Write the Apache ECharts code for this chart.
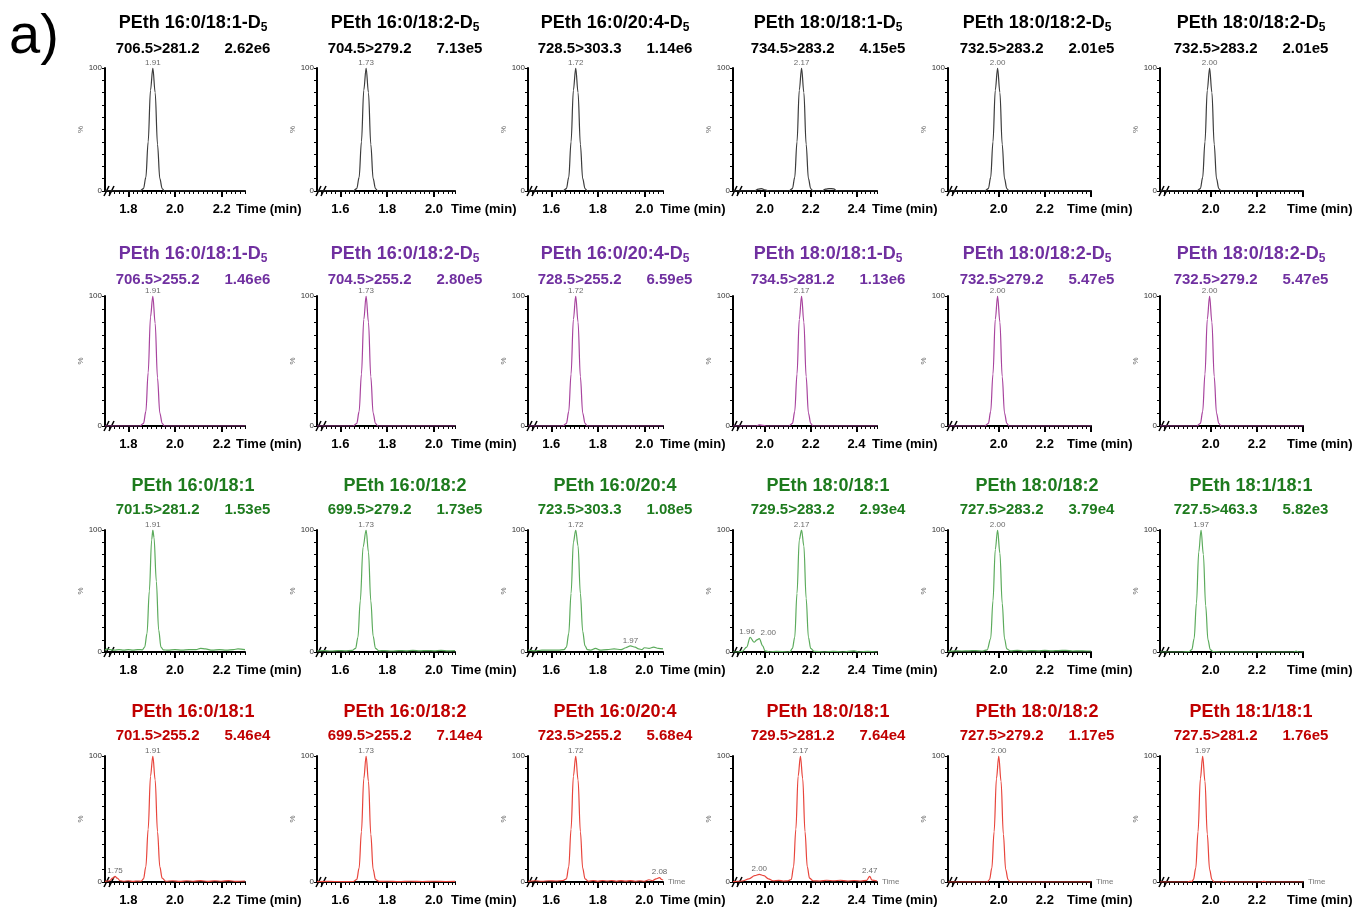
<!DOCTYPE html>
<html>
<head>
<meta charset="utf-8">
<script src="https://cdn.jsdelivr.net/npm/echarts@6/dist/echarts.min.js"></script>
<style>
  html, body { margin: 0; padding: 0; background: #fff; }
  #main { width: 1354px; height: 909px; }
</style>
</head>
<body>
<div id="main"></div>
<script>
// compounds (internal standards carry the -D5 label)
const isNames = ["16:0/18:1", "16:0/18:2", "16:0/20:4", "18:0/18:1", "18:0/18:2", "18:0/18:2"];
const analyteNames = ["16:0/18:1", "16:0/18:2", "16:0/20:4", "18:0/18:1", "18:0/18:2", "18:1/18:1"];

const isQuantTransitions = ["706.5>281.2", "704.5>279.2", "728.5>303.3", "734.5>283.2", "732.5>283.2", "732.5>283.2"];
const isQualTransitions = ["706.5>255.2", "704.5>255.2", "728.5>255.2", "734.5>281.2", "732.5>279.2", "732.5>279.2"];
const quantTransitions = ["701.5>281.2", "699.5>279.2", "723.5>303.3", "729.5>283.2", "727.5>283.2", "727.5>463.3"];
const qualTransitions = ["701.5>255.2", "699.5>255.2", "723.5>255.2", "729.5>281.2", "727.5>279.2", "727.5>281.2"];

const isQuantHeights = ["2.62e6", "7.13e5", "1.14e6", "4.15e5", "2.01e5", "2.01e5"];
const isQualHeights = ["1.46e6", "2.80e5", "6.59e5", "1.13e6", "5.47e5", "5.47e5"];
const quantHeights = ["1.53e5", "1.73e5", "1.08e5", "2.93e4", "3.79e4", "5.82e3"];
const qualHeights = ["5.46e4", "7.14e4", "5.68e4", "7.64e4", "1.17e5", "1.76e5"];

// time axis per column
const xMin = [1.70, 1.50, 1.50, 1.86, 1.78, 1.78];
const xMax = [2.30, 2.09, 2.08, 2.49, 2.40, 2.40];
const tickLabels = [[1.8, 2.0, 2.2], [1.6, 1.8, 2.0], [1.6, 1.8, 2.0], [2.0, 2.2, 2.4], [2.0, 2.2], [2.0, 2.2]];
const majorTicks = [[1.8, 2.0, 2.2], [1.6, 1.8, 2.0], [1.6, 1.8, 2.0], [2.0, 2.2, 2.4], [2.0, 2.2, 2.4], [2.0, 2.2, 2.4]];

// traces [time, % intensity]
const isQuantTraces = [
  [[1.70,0],[1.85,0],[1.865,2],[1.875,11],[1.885,40],[1.895,82],[1.905,100],[1.915,80],[1.925,38],[1.935,10],[1.945,2],[1.955,0],[2.30,0]],
  [[1.50,0],[1.655,0],[1.67,2],[1.68,11],[1.69,40],[1.70,82],[1.71,100],[1.72,80],[1.73,38],[1.74,10],[1.75,2],[1.76,0],[2.09,0]],
  [[1.50,0],[1.65,0],[1.665,2],[1.675,11],[1.685,40],[1.695,82],[1.705,100],[1.715,80],[1.725,38],[1.735,10],[1.745,2],[1.755,0],[2.08,0]],
  [[1.86,0],[1.955,0],[1.97,1.5],[1.985,2],[2.0,1],[2.015,0],[2.105,0],[2.12,2],[2.13,11],[2.14,40],[2.15,82],[2.16,100],[2.17,80],[2.18,38],[2.19,10],[2.20,2],[2.21,0],[2.25,0],[2.265,1.5],[2.28,2],[2.30,1.8],[2.315,0],[2.49,0]],
  [[1.78,0],[1.94,0],[1.955,2],[1.965,11],[1.975,40],[1.985,82],[1.995,100],[2.005,80],[2.015,38],[2.025,10],[2.035,2],[2.045,0],[2.40,0]],
  [[1.78,0],[1.94,0],[1.955,2],[1.965,11],[1.975,40],[1.985,82],[1.995,100],[2.005,80],[2.015,38],[2.025,10],[2.035,2],[2.045,0],[2.40,0]]
];
const isQualTraces = [
  [[1.70,0],[1.85,0],[1.865,2],[1.875,11],[1.885,41],[1.895,84],[1.905,100],[1.915,79],[1.925,37],[1.935,10],[1.945,2],[1.955,0],[2.30,0]],
  [[1.50,0],[1.655,0],[1.67,2],[1.68,11],[1.69,40],[1.70,82],[1.71,100],[1.72,80],[1.73,38],[1.74,10],[1.75,2],[1.76,0],[2.09,0]],
  [[1.50,0],[1.65,0],[1.665,2],[1.675,11],[1.685,40],[1.695,82],[1.705,100],[1.715,80],[1.725,38],[1.735,10],[1.745,2],[1.755,0],[2.08,0]],
  [[1.86,0],[1.96,0],[1.975,0.8],[1.99,0.5],[2.005,0],[2.105,0],[2.12,2],[2.13,11],[2.14,40],[2.15,82],[2.16,100],[2.17,80],[2.18,38],[2.19,10],[2.20,2],[2.21,0],[2.49,0]],
  [[1.78,0],[1.94,0],[1.955,2],[1.965,11],[1.975,40],[1.985,82],[1.995,100],[2.005,80],[2.015,38],[2.025,10],[2.035,2],[2.045,0],[2.40,0]],
  [[1.78,0],[1.94,0],[1.955,2],[1.965,11],[1.975,40],[1.985,82],[1.995,100],[2.005,80],[2.015,38],[2.025,10],[2.035,2],[2.045,0],[2.40,0]]
];
const quantTraces = [
  [[1.70,1.5],[1.71,2.5],[1.72,2],[1.74,1.5],[1.76,2],[1.78,1.5],[1.80,2],[1.82,1.5],[1.84,2],[1.86,1.8],[1.87,4],[1.88,15],[1.89,50],[1.90,92],[1.905,100],[1.91,94],[1.92,58],[1.93,18],[1.94,4],[1.95,1.8],[1.97,1.5],[2.00,2],[2.03,1.5],[2.06,2],[2.09,2],[2.11,3],[2.13,2.5],[2.16,1.5],[2.19,2],[2.22,1.5],[2.25,2],[2.27,2.5],[2.30,2]],
  [[1.50,0.8],[1.53,1.2],[1.56,0.8],[1.59,1.2],[1.62,1],[1.65,1.3],[1.665,3],[1.675,12],[1.685,42],[1.697,86],[1.71,100],[1.72,82],[1.73,42],[1.74,13],[1.75,3],[1.765,1],[1.79,1.2],[1.82,0.8],[1.85,1.2],[1.88,1],[1.91,1.3],[1.94,0.9],[1.97,1.2],[2.00,1],[2.03,1.3],[2.06,0.9],[2.09,1.1]],
  [[1.50,1.5],[1.53,1],[1.56,1.5],[1.60,1.5],[1.63,1.5],[1.655,2],[1.665,4],[1.675,15],[1.685,48],[1.695,90],[1.705,100],[1.715,87],[1.725,48],[1.735,17],[1.745,5],[1.755,2],[1.77,1.5],[1.79,3],[1.81,1.5],[1.84,2],[1.87,2.5],[1.90,2],[1.92,3.5],[1.94,5],[1.96,4],[1.975,2.5],[1.99,2],[2.00,3.5],[2.02,3],[2.04,4],[2.06,3],[2.08,2.5]],
  [[1.86,0],[1.88,0],[1.90,0.5],[1.92,4],[1.935,12],[1.952,8],[1.965,10],[1.975,11],[1.99,5],[2.00,1],[2.02,0],[2.05,0.5],[2.10,0],[2.11,0.5],[2.12,3],[2.13,12],[2.14,48],[2.15,92],[2.16,100],[2.17,87],[2.18,44],[2.19,12],[2.20,3],[2.215,0.5],[2.26,0],[2.30,0.5],[2.34,0],[2.39,1],[2.41,0],[2.45,0.5],[2.49,0]],
  [[1.78,0.5],[1.81,1],[1.84,0.8],[1.87,1],[1.90,1.2],[1.93,0.8],[1.95,1.8],[1.965,11],[1.975,42],[1.985,84],[1.995,100],[2.005,81],[2.015,40],[2.025,11],[2.035,2.5],[2.05,1],[2.08,1.3],[2.11,0.8],[2.14,1.2],[2.17,1],[2.20,1.3],[2.23,0.9],[2.26,1.2],[2.29,1.4],[2.32,0.8],[2.35,1],[2.38,0.8],[2.40,0.8]],
  [[1.78,0],[1.87,0],[1.905,0.3],[1.918,2],[1.928,11],[1.938,40],[1.948,82],[1.958,100],[1.968,80],[1.978,38],[1.988,10],[1.998,2],[2.01,0.3],[2.05,0],[2.36,0],[2.37,0.8],[2.38,0],[2.40,0]]
];
const qualTraces = [
  [[1.70,0.5],[1.72,1],[1.733,3],[1.743,4.5],[1.753,3],[1.765,1],[1.78,0.6],[1.80,1],[1.82,0.5],[1.84,0.8],[1.855,0.6],[1.865,2.5],[1.875,12],[1.885,42],[1.895,84],[1.905,100],[1.915,81],[1.925,40],[1.935,12],[1.945,3],[1.96,0.6],[1.99,1],[2.02,0.5],[2.05,1],[2.08,0.6],[2.11,1.1],[2.14,0.5],[2.17,1],[2.20,0.6],[2.23,1.1],[2.26,0.5],[2.30,0.8]],
  [[1.50,0.3],[1.55,0.5],[1.60,0.3],[1.655,0.4],[1.67,2],[1.68,11],[1.69,40],[1.70,82],[1.71,100],[1.72,80],[1.73,38],[1.74,10],[1.75,2],[1.765,0.5],[1.80,0.6],[1.85,0.3],[1.90,0.6],[1.95,0.4],[2.00,0.6],[2.05,0.4],[2.09,0.5]],
  [[1.50,0.5],[1.53,1],[1.56,0.6],[1.59,1],[1.62,0.8],[1.65,1.2],[1.665,2.5],[1.675,12],[1.685,42],[1.695,84],[1.705,100],[1.715,81],[1.725,40],[1.735,11],[1.745,2.5],[1.76,0.6],[1.78,1.2],[1.80,0.5],[1.82,1.2],[1.84,0.8],[1.86,1.2],[1.88,0.6],[1.90,1.1],[1.92,0.7],[1.94,1.1],[1.96,0.6],[1.98,1],[2.00,0.6],[2.02,1.8],[2.035,1],[2.05,2.5],[2.065,3.5],[2.075,2],[2.08,1.5]],
  [[1.86,0.3],[1.90,0.8],[1.93,2.5],[1.955,5],[1.975,6],[1.995,5],[2.015,2.5],[2.035,1],[2.06,1.3],[2.08,0.8],[2.10,1],[2.115,2],[2.125,12],[2.135,42],[2.145,84],[2.155,100],[2.165,82],[2.175,40],[2.185,12],[2.195,3],[2.21,1],[2.24,0.8],[2.27,1.4],[2.30,1],[2.33,1.4],[2.36,0.8],[2.39,1.2],[2.42,0.8],[2.445,1.3],[2.458,4.5],[2.468,1.5],[2.49,0.8]],
  [[1.78,0],[1.95,0],[1.96,2],[1.97,11],[1.98,40],[1.99,82],[2.00,100],[2.01,80],[2.02,38],[2.03,10],[2.04,2],[2.05,0],[2.40,0]],
  [[1.78,0],[1.90,0],[1.91,0.6],[1.918,0.3],[1.925,2],[1.935,11],[1.945,40],[1.955,82],[1.965,100],[1.975,80],[1.985,38],[1.995,10],[2.005,2],[2.015,0],[2.05,0],[2.06,0.6],[2.07,0],[2.22,0],[2.23,0.6],[2.24,0],[2.40,0]]
];

// labelled peaks [time, % intensity, text]
const isQuantPeaks = [[[1.905,100,"1.91"]],[[1.71,100,"1.73"]],[[1.705,100,"1.72"]],[[2.16,100,"2.17"]],[[1.995,100,"2.00"]],[[1.995,100,"2.00"]]];
const isQualPeaks = [[[1.905,100,"1.91"]],[[1.71,100,"1.73"]],[[1.705,100,"1.72"]],[[2.16,100,"2.17"]],[[1.995,100,"2.00"]],[[1.995,100,"2.00"]]];
const quantPeaks = [[[1.905,100,"1.91"]],[[1.71,100,"1.73"]],[[1.705,100,"1.72"],[1.94,5,"1.97"]],[[2.16,100,"2.17"],[1.935,12,"1.96"],[1.975,11,"2.00"]],[[1.995,100,"2.00"]],[[1.958,100,"1.97"]]];
const qualPeaks = [[[1.905,100,"1.91"],[1.743,4.5,"1.75"]],[[1.71,100,"1.73"]],[[1.705,100,"1.72"],[2.065,3.5,"2.08"]],[[2.155,100,"2.17"],[1.975,6,"2.00"],[2.458,4.5,"2.47"]],[[2.00,100,"2.00"]],[[1.965,100,"1.97"]]];

const FONT = '"Liberation Sans", Arial, sans-serif';

const rows = [
  { names: isNames, deut: true, trans: isQuantTransitions, heights: isQuantHeights, traces: isQuantTraces, peaks: isQuantPeaks, titleColor: "#000000", lineColor: "#3c3c3c" },
  { names: isNames, deut: true, trans: isQualTransitions, heights: isQualHeights, traces: isQualTraces, peaks: isQualPeaks, titleColor: "#7030a0", lineColor: "#a8449e" },
  { names: analyteNames, deut: false, trans: quantTransitions, heights: quantHeights, traces: quantTraces, peaks: quantPeaks, titleColor: "#1e7b1e", lineColor: "#5cab5c" },
  { names: analyteNames, deut: false, trans: qualTransitions, heights: qualHeights, traces: qualTraces, peaks: qualPeaks, titleColor: "#c00000", lineColor: "#e8453c" }
];

// layout
const colLeft = [105, 317, 528, 733, 948, 1160];
const colRight = [245, 455, 663, 877, 1091, 1303];
const rowTop = [68, 296, 530, 756];
const rowBottom = [191, 426, 652, 882];
const titleX = [193, 405, 615, 828, 1037, 1251];
const titleMidY = [23, 254, 486, 712];
const nameShift = [-9, -4, -3, -5, -24, -16];
// peak-label nudges: "row-col-index"
const labelNudge = { "2-3-2": [9, 0], "2-3-1": [-3, 0] };

const chart = echarts.init(document.getElementById("main"));

const grid = [], xAxis = [], yAxis = [], series = [], title = [];

rows.forEach((row, r) => {
  for (let c = 0; c < 6; c++) {
    const k = r * 6 + c;
    grid.push({
      left: colLeft[c], top: rowTop[r],
      width: colRight[c] - colLeft[c], height: rowBottom[r] - rowTop[r],
      containLabel: false
    });

    // minor ticks + axis line + "Time (min)"
    xAxis.push({
      type: "value", gridIndex: k, position: "bottom",
      min: xMin[c], max: xMax[c], interval: 0.02,
      axisLine: { onZero: false, lineStyle: { color: "#000", width: 2 } },
      axisTick: { length: 3, lineStyle: { color: "#000", width: 1 } },
      axisLabel: { show: false },
      splitLine: { show: false },
      name: "Time (min)", nameLocation: "end", nameGap: nameShift[c],
      nameTextStyle: { fontFamily: FONT, fontSize: 13, fontWeight: "bold", color: "#000",
        align: "left", verticalAlign: "top", padding: [12, 0, 0, 0] }
    });
    // major ticks + labels
    const smallTime = r === 3 && c >= 2;
    xAxis.push({
      type: "value", gridIndex: k, position: "bottom",
      min: xMin[c], max: xMax[c],
      axisLine: { show: false, onZero: false },
      axisTick: { show: true, customValues: majorTicks[c], length: 6, lineStyle: { color: "#000", width: 2 } },
      axisLabel: { customValues: tickLabels[c], formatter: v => v.toFixed(1), margin: 12,
        fontFamily: FONT, fontSize: 13, fontWeight: "bold", color: "#000" },
      splitLine: { show: false },
      name: smallTime ? "Time" : "", nameLocation: "end", nameGap: 5,
      nameTextStyle: { fontFamily: FONT, fontSize: 8, color: "#777", verticalAlign: "middle" }
    });

    yAxis.push({
      type: "value", gridIndex: k, min: 0, max: 100, interval: 10,
      axisLine: { show: true, lineStyle: { color: "#000", width: 2 } },
      axisTick: { show: true, length: 3, lineStyle: { color: "#000", width: 1 } },
      axisLabel: { formatter: v => (v === 0 || v === 100) ? String(v) : "", margin: 3,
        fontFamily: FONT, fontSize: 8, color: "#333" },
      splitLine: { show: false },
      name: "%", nameLocation: "middle", nameGap: 7, nameRotate: 90,
      nameTextStyle: { fontFamily: FONT, fontSize: 8, color: "#666" }
    });

    series.push({
      type: "line", xAxisIndex: 2 * k, yAxisIndex: k,
      data: row.traces[c], showSymbol: false, symbol: "none",
      smooth: 0.35, smoothMonotone: "x",
      lineStyle: { color: row.lineColor, width: 1.2 }, silent: true
    });
    series.push({
      type: "scatter", xAxisIndex: 2 * k, yAxisIndex: k,
      symbolSize: 1, itemStyle: { color: "rgba(0,0,0,0)" }, silent: true,
      data: row.peaks[c].map((p, i) => ({
        value: [p[0], p[1]],
        label: { formatter: p[2], offset: labelNudge[r + "-" + c + "-" + i] || [0, 0] }
      })),
      label: { show: true, position: "top", distance: 1,
        fontFamily: FONT, fontSize: 8, color: "#444" }
    });

    const name = "PEth " + row.names[c] + (row.deut ? "-D" : "");
    title.push({
      left: titleX[c], top: titleMidY[r] - 11, textAlign: "center", padding: 0, itemGap: 9,
      text: "{a|" + name + "}" + (row.deut ? "{s|5}" : ""),
      textStyle: { rich: {
        a: { fontFamily: FONT, fontSize: 18, fontWeight: "bold", color: row.titleColor, lineHeight: 22 },
        s: { fontFamily: FONT, fontSize: 12, fontWeight: "bold", color: row.titleColor, lineHeight: 8, verticalAlign: "bottom" }
      } },
      subtext: row.trans[c] + "\u00a0\u00a0\u00a0\u00a0\u00a0\u00a0" + row.heights[c],
      subtextStyle: { fontFamily: FONT, fontSize: 15, fontWeight: "bold", color: row.titleColor, lineHeight: 16 }
    });
  }
});

chart.setOption({
  animation: false,
  backgroundColor: "#fff",
  title, grid, xAxis, yAxis, series
});

// "a)" panel tag and the axis-break marks near each origin
const graphic = [{
  type: "text", left: 9, top: 10,
  style: { text: "a)", fontFamily: FONT, fontSize: 56, fill: "#000" }
}];
for (let k = 0; k < 24; k++) {
  const c = k % 6;
  const p = chart.convertToPixel({ gridIndex: k }, [xMin[c], 0]);
  [0, 5].forEach(dx => {
    graphic.push({
      type: "line", silent: true,
      shape: { x1: p[0] - 1 + dx, y1: p[1] + 5, x2: p[0] + 4 + dx, y2: p[1] - 5 },
      style: { stroke: "#000", lineWidth: 1.6 }
    });
  });
}
chart.setOption({ graphic });
</script>
</body>
</html>
